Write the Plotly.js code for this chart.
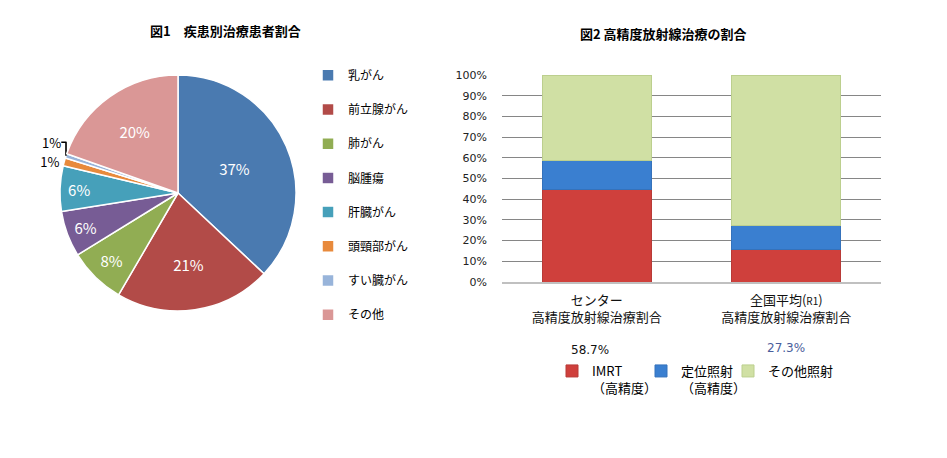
<!DOCTYPE html>
<html><head><meta charset="utf-8">
<script src="https://cdn.plot.ly/plotly-3.0.1.min.js"></script>
<style>body{margin:0;background:#fff}#c{width:947px;height:458px}</style>
</head><body><div id="c"></div>
<script>
// Figure 1: disease share
const pieLabels = ['乳がん','前立腺がん','肺がん','脳腫瘍','肝臓がん','頭頸部がん','すい臓がん','その他'];
const pieValues = [37.0, 21.4, 7.8, 6.3, 6.2, 1.1, 0.6, 19.6];
const pieColors = ['#4a7ab0','#b24b48','#91ad53','#775c95','#46a0ba','#e88a3c','#98b4da','#da9796'];

// Figure 2: high-precision radiotherapy share
const barCats = ['センター<br>高精度放射線治療割合', '全国平均(<span style="font-size:10px">R1</span>)<br>高精度放射線治療割合'];
const seriesNames = ['IMRT<br>（高精度）', '定位照射<br>（高精度）', 'その他照射'];
const imrt = [44.5, 15.8];
const teii = [14.2, 11.5];
const other = [41.3, 72.7];
const totalLabels = ['58.7%', '27.3%'];
const barColors = ['#cf403c', '#3a7fd0', '#d0e0a4'];
const barLines = ['#b83a37', '#3572bb', '#bccf8e'];

const F = '"Noto Sans CJK JP", "Noto Sans", sans-serif';

const traces = [{
  type: 'pie', labels: pieLabels.map(s => s + '<br>\u00a0'), values: pieValues, sort: false, direction: 'clockwise', rotation: 0,
  marker: {colors: pieColors, line: {color: '#ffffff', width: 1.5}},
  texttemplate: '%{percent:.0%}',
  textposition: ['inside','inside','inside','inside','inside','outside','outside','inside'],
  insidetextorientation: 'horizontal',
  textfont: {family: F, size: 15},
  insidetextfont: {color: '#ffffff', size: 15, family: F},
  outsidetextfont: {color: '#000000', size: 13, family: F},
  domain: {x: [60/947, 296/947], y: [1-311/458, 1-75/458]},
  legend: 'legend', hoverinfo: 'none'
}];
const barLegends = ['legend2', 'legend3', 'legend4'];
[imrt, teii, other].forEach((v, i) => {
  traces.push({type: 'bar', x: barCats, y: v, name: seriesNames[i],
    marker: {color: barColors[i], line: {color: barLines[i], width: 1}},
    xaxis: 'x', yaxis: 'y', legend: barLegends[i], hoverinfo: 'none'});
});

const barLegendX = [552, 641, 728];
const layout = {
  width: 947, height: 458, margin: {l: 0, r: 0, t: 0, b: 0},
  paper_bgcolor: '#ffffff', plot_bgcolor: '#ffffff',
  font: {family: F, size: 12, color: '#000'},
  barmode: 'stack', bargap: 0.425,
  xaxis: {domain: [502/947, 881/947], showgrid: false, showline: true, linecolor: '#c0c0c0', linewidth: 2,
    ticks: '', tickfont: {size: 13, family: F, color: '#111'}, ticklabelstandoff: 5},
  yaxis: {domain: [1-282/458, 1-75/458], range: [0, 100], dtick: 10, ticksuffix: '%',
    showgrid: true, gridcolor: '#868686', gridwidth: 1, zeroline: false, showline: false,
    tickfont: {size: 11, family: '"DejaVu Sans", sans-serif', color: '#222'}, ticklabelstandoff: 14},
  legend: {x: 308/947, y: 1-61/458, xanchor: 'left', yanchor: 'top', traceorder: 'normal', valign: 'top',
    font: {size: 12, family: F}, bgcolor: 'rgba(0,0,0,0)', tracegroupgap: 0},
  annotations: [
    {text: '<b>図1　疾患別治療患者割合</b>', x: 225/947, y: 1-31/458, xref: 'paper', yref: 'paper', xanchor: 'center', yanchor: 'middle', showarrow: false, font: {size: 13, family: F}},
    {text: '<b>図2 高精度放射線治療の割合</b>', x: 663/947, y: 1-33/458, xref: 'paper', yref: 'paper', xanchor: 'center', yanchor: 'middle', showarrow: false, font: {size: 13, family: F}},
    {text: totalLabels[0], x: 590/947, y: 1-350/458, xref: 'paper', yref: 'paper', xanchor: 'center', yanchor: 'middle', showarrow: false, font: {size: 12, family: '"DejaVu Sans", sans-serif', color: '#111'}},
    {text: totalLabels[1], x: 786/947, y: 1-348/458, xref: 'paper', yref: 'paper', xanchor: 'center', yanchor: 'middle', showarrow: false, font: {size: 12, family: '"DejaVu Sans", sans-serif', color: '#4a5e9c'}}
  ]
};
barLegends.forEach((lg, i) => {
  layout[lg] = {orientation: 'h', x: barLegendX[i]/947, y: 1-356/458, xanchor: 'left', yanchor: 'top', valign: 'top',
    font: {size: 13, family: F}, bgcolor: 'rgba(0,0,0,0)'};
});
Plotly.newPlot('c', traces, layout, {staticPlot: true});
</script></body></html>
